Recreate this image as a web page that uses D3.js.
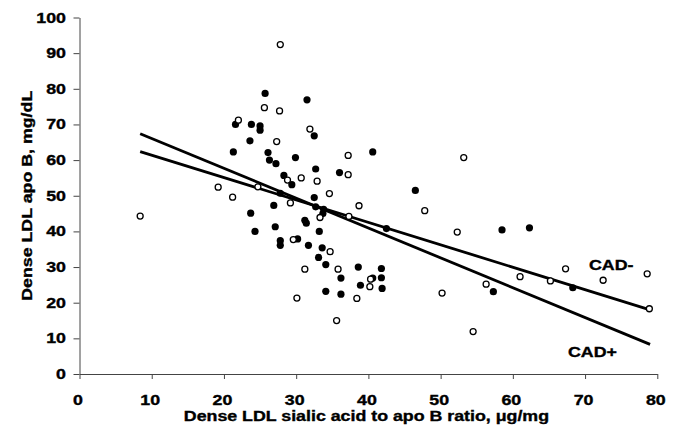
<html>
<head>
<script src="https://cdn.jsdelivr.net/npm/d3@7"></script>
<style>
  body { margin: 0; background: #fff; }
  text { font-family: "Liberation Sans", Arial, sans-serif; font-weight: bold; fill: #000; stroke: #000; stroke-width: 0.35px; }
</style>
</head>
<body>
<div id="chart"></div>
<script>
// tick values
var xTicks = [0, 10, 20, 30, 40, 50, 60, 70, 80];
var yTicks = [0, 10, 20, 30, 40, 50, 60, 70, 80, 90, 100];

// CAD- subjects (open circles): [sialic acid / apo B ratio, apo B]
var cadMinus = [
  [8.4, 44.3], [19.2, 52.4], [21.2, 49.6], [22.0, 71.2], [24.7, 52.5], [25.6, 74.7],
  [27.7, 73.8], [27.8, 92.4], [27.3, 65.2], [28.8, 54.4], [29.2, 48.0], [29.6, 37.7],
  [30.1, 21.3], [30.7, 55.0], [31.2, 29.4], [31.9, 68.7], [32.9, 54.1], [33.3, 43.9],
  [34.6, 50.6], [34.7, 34.3], [35.6, 15.0], [35.8, 29.4], [37.2, 61.3], [37.2, 55.9],
  [37.3, 44.2], [38.4, 21.2], [38.7, 47.2], [40.3, 26.6], [40.2, 24.5], [47.8, 45.8],
  [50.2, 22.7], [52.3, 39.8], [53.2, 60.7], [54.5, 11.9], [56.3, 25.2], [61.0, 27.3],
  [65.2, 26.1], [67.3, 29.5], [72.5, 26.3], [78.6, 28.1], [78.9, 18.3]
];

// CAD+ subjects (filled circles)
var cadPlus = [
  [21.3, 62.3], [21.6, 70.0], [23.8, 70.0], [25.0, 69.6], [25.0, 68.4], [23.6, 65.4],
  [25.7, 78.7], [31.5, 76.9], [32.5, 66.8], [26.1, 62.1], [26.3, 60.0], [27.2, 59.0],
  [29.9, 60.7], [32.7, 57.5], [36.0, 56.5], [28.3, 55.7], [29.4, 53.1], [27.8, 50.7],
  [32.5, 49.5], [26.9, 47.3], [32.7, 46.9], [33.8, 46.2], [33.7, 45.0], [23.7, 45.1],
  [24.3, 40.0], [27.1, 41.3], [31.2, 43.1], [31.4, 42.3], [33.2, 40.0], [27.8, 37.4],
  [27.8, 36.1], [30.2, 37.9], [31.7, 36.1], [33.6, 35.4], [33.1, 32.7], [34.1, 30.7],
  [36.2, 26.9], [34.1, 23.2], [36.2, 22.4], [38.6, 30.0], [38.9, 24.9], [40.6, 62.3],
  [40.6, 26.9], [41.8, 29.6], [41.8, 27.0], [41.9, 24.0], [42.5, 40.8], [46.5, 51.5],
  [57.3, 23.1], [58.5, 40.4], [62.3, 41.0], [68.3, 24.2]
];

// regression lines, end points
var fitPlus = [[8.4, 67.4], [79.0, 8.3]];
var fitMinus = [[8.4, 62.4], [79.0, 18.0]];

var W = 679, H = 439, stretch = 1.27;

var svg = d3.select("#chart").append("svg")
  .attr("width", W).attr("height", H);

var x = d3.scaleLinear().domain([0, 80]).range([79.5, 657.3]);
var y = d3.scaleLinear().domain([0, 100]).range([374, 17.5]);

// axes (labels drawn separately so they can be widened like the original)
var gx = svg.append("g").attr("transform", "translate(0," + y(0) + ")")
  .call(d3.axisBottom(x).tickValues(xTicks).tickSize(5).tickSizeOuter(0).tickFormat(""));
var gy = svg.append("g").attr("transform", "translate(" + x(0) + ",0)")
  .call(d3.axisLeft(y).tickValues(yTicks).tickSize(6).tickSizeOuter(0).tickFormat(""));
svg.selectAll(".domain, .tick line").attr("stroke", "#444").attr("stroke-width", 1);

svg.append("g").selectAll("text").data(xTicks).enter().append("text")
  .attr("transform", function(d) { return "translate(" + (x(d) - 1.5) + ",405) scale(" + stretch + ",1)"; })
  .attr("text-anchor", "middle")
  .attr("font-size", "14px")
  .text(function(d) { return d; });

svg.append("g").selectAll("text").data(yTicks).enter().append("text")
  .attr("transform", function(d) { return "translate(66," + (y(d) + 5) + ") scale(" + stretch + ",1)"; })
  .attr("text-anchor", "end")
  .attr("font-size", "14px")
  .text(function(d) { return d; });

// axis titles
svg.append("text")
  .attr("transform", "translate(" + ((x(0) + x(80)) / 2 - 2) + ",421) scale(" + stretch + ",1)")
  .attr("text-anchor", "middle")
  .attr("font-size", "14px")
  .text("Dense LDL sialic acid to apo B ratio, \u03bcg/mg");

svg.append("text")
  .attr("transform", "translate(32," + ((y(0) + y(100)) / 2) + ") rotate(-90) scale(" + stretch + ",1)")
  .attr("text-anchor", "middle")
  .attr("font-size", "14px")
  .text("Dense LDL apo B, mg/dL");

// regression lines
var line = d3.line().x(function(d) { return x(d[0]); }).y(function(d) { return y(d[1]); });
[fitPlus, fitMinus].forEach(function(f) {
  svg.append("path").attr("d", line(f))
    .attr("fill", "none").attr("stroke", "#000").attr("stroke-width", 2.8);
});

// points
svg.append("g").selectAll("circle").data(cadPlus).enter().append("circle")
  .attr("cx", function(d) { return x(d[0]); })
  .attr("cy", function(d) { return y(d[1]); })
  .attr("r", 3.6)
  .attr("fill", "#000");

svg.append("g").selectAll("circle").data(cadMinus).enter().append("circle")
  .attr("cx", function(d) { return x(d[0]); })
  .attr("cy", function(d) { return y(d[1]); })
  .attr("r", 3.0)
  .attr("fill", "#fff")
  .attr("stroke", "#000")
  .attr("stroke-width", 1.3);

// series labels
svg.append("text")
  .attr("transform", "translate(589,270) scale(" + stretch + ",1)")
  .attr("font-size", "14px")
  .text("CAD-");
svg.append("text")
  .attr("transform", "translate(568,357) scale(" + stretch + ",1)")
  .attr("font-size", "14px")
  .text("CAD+");
</script>
</body>
</html>
